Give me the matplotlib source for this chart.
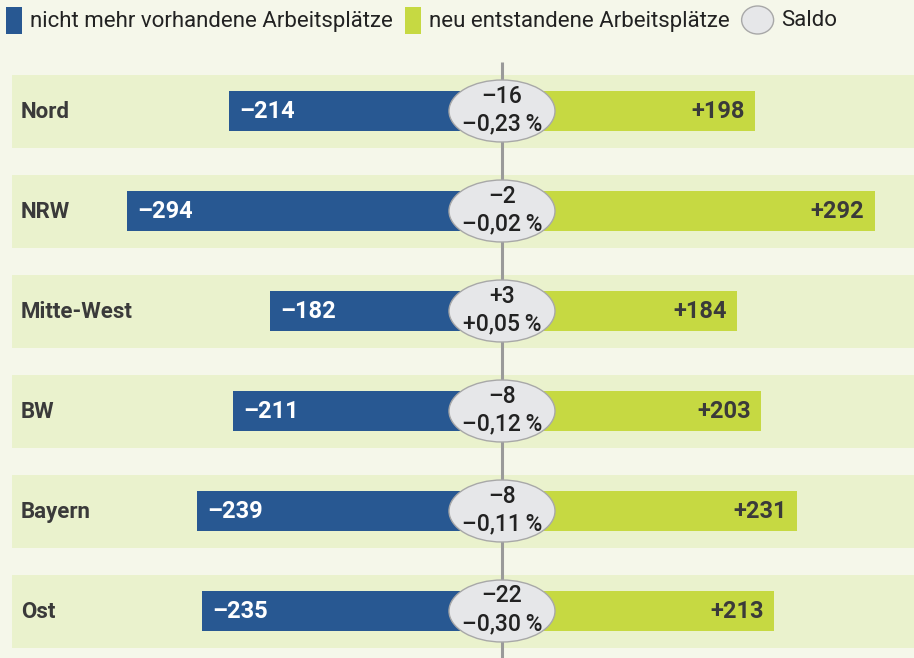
import matplotlib
matplotlib.use("Agg")
import matplotlib.pyplot as plt
from matplotlib.patches import Ellipse, Rectangle

regions = ["Nord", "NRW", "Mitte-West", "BW", "Bayern", "Ost"]
lost = [-214, -294, -182, -211, -239, -235]
new = [198, 292, 184, 203, 231, 213]
saldo = [-16, -2, 3, -8, -8, -22]
saldo_pct = [-0.23, -0.02, 0.05, -0.12, -0.11, -0.30]
legend_labels = ["nicht mehr vorhandene Arbeitsplätze", "neu entstandene Arbeitsplätze", "Saldo"]

BLUE = "#285892"
GREEN = "#c6d942"
BG = "#f5f7ea"
BAND = "#eaf2cd"
TEXT = "#3a3a3a"
FONT = ["Roboto", "Liberation Sans", "DejaVu Sans"]

W, H = 914, 658
fig = plt.figure(figsize=(W / 100, H / 100), dpi=100, facecolor=BG)
ax = fig.add_axes([0, 0, 1, 1])
ax.set_facecolor(BG)
scale = 1.276  # px per unit
cx = 502
ax.set_xlim(-cx / scale, (W - cx) / scale)
row0, step = 111, 100
ax.set_ylim((H - row0) / step, -row0 / step)
ax.axis("off")

def fmt_signed(v):
    return ("+" if v > 0 else "–") + str(abs(v))

def fmt_pct(v):
    s = f"{abs(v):.2f}".replace(".", ",")
    return ("+" if v > 0 else "–") + s + "\u2009%"

for i, r in enumerate(regions):
    ax.add_patch(Rectangle((-(cx - 12) / scale, i - 0.365), 2000, 0.73,
                           facecolor=BAND, edgecolor="none", zorder=1))
ax.plot([0, 0], [(62 - row0) / step, (H - row0) / step], color="#9a9a9a", lw=2.2, zorder=2,
        solid_capstyle="butt")

ys = list(range(len(regions)))
ax.barh(ys, lost, height=0.40, color=BLUE, zorder=3)
ax.barh(ys, new, height=0.40, color=GREEN, zorder=3)

for i, r in enumerate(regions):
    ax.text(-(cx - 21) / scale, i + 0.01, r, ha="left", va="center", fontsize=16,
            color=TEXT, fontweight="bold", family=FONT, zorder=5)
    ax.text(lost[i] + 8, i, fmt_signed(lost[i]), ha="left", va="center", fontsize=17,
            color="white", fontweight="bold", family=FONT, zorder=5)
    ax.text(new[i] - 8, i, fmt_signed(new[i]), ha="right", va="center", fontsize=17,
            color=TEXT, fontweight="bold", family=FONT, zorder=5)
    ax.add_patch(Ellipse((0, i), 106 / scale, 0.62, facecolor="#e6e7e9",
                         edgecolor="#a8a8a8", lw=1.0, zorder=4))
    ax.text(0, i - 0.15, fmt_signed(saldo[i]), ha="center", va="center", fontsize=16.5,
            color="#222222", fontweight="medium", family=FONT, zorder=5)
    ax.text(0, i + 0.13, fmt_pct(saldo_pct[i]), ha="center", va="center", fontsize=16.5,
            color="#222222", fontweight="medium", family=FONT, zorder=5)

# legend in pixel coordinates, laid out sequentially
def fx(px):
    return px / W

def fy(py):
    return 1 - py / H

renderer = fig.canvas.get_renderer()
x = 6
lfs = 16
markers = ["rect_blue", "rect_green", "ellipse"]
for lab, mk in zip(legend_labels, markers):
    if mk == "ellipse":
        mw = 32
        fig.add_artist(Ellipse((fx(x + mw / 2), fy(20)), mw / W, 28 / H, transform=fig.transFigure,
                               facecolor="#e6e7e9", edgecolor="#a8a8a8", lw=1.0))
    else:
        mw = 16
        fig.add_artist(Rectangle((fx(x), fy(34)), mw / W, 27 / H, transform=fig.transFigure,
                                 facecolor=BLUE if mk == "rect_blue" else GREEN, edgecolor="none"))
    x += mw + 8
    t = fig.text(fx(x), fy(21), lab, ha="left", va="center", fontsize=lfs,
                 color="#222222", family=FONT)
    x += t.get_window_extent(renderer).width + 12

fig.savefig("out.png", dpi=100, facecolor=BG)
